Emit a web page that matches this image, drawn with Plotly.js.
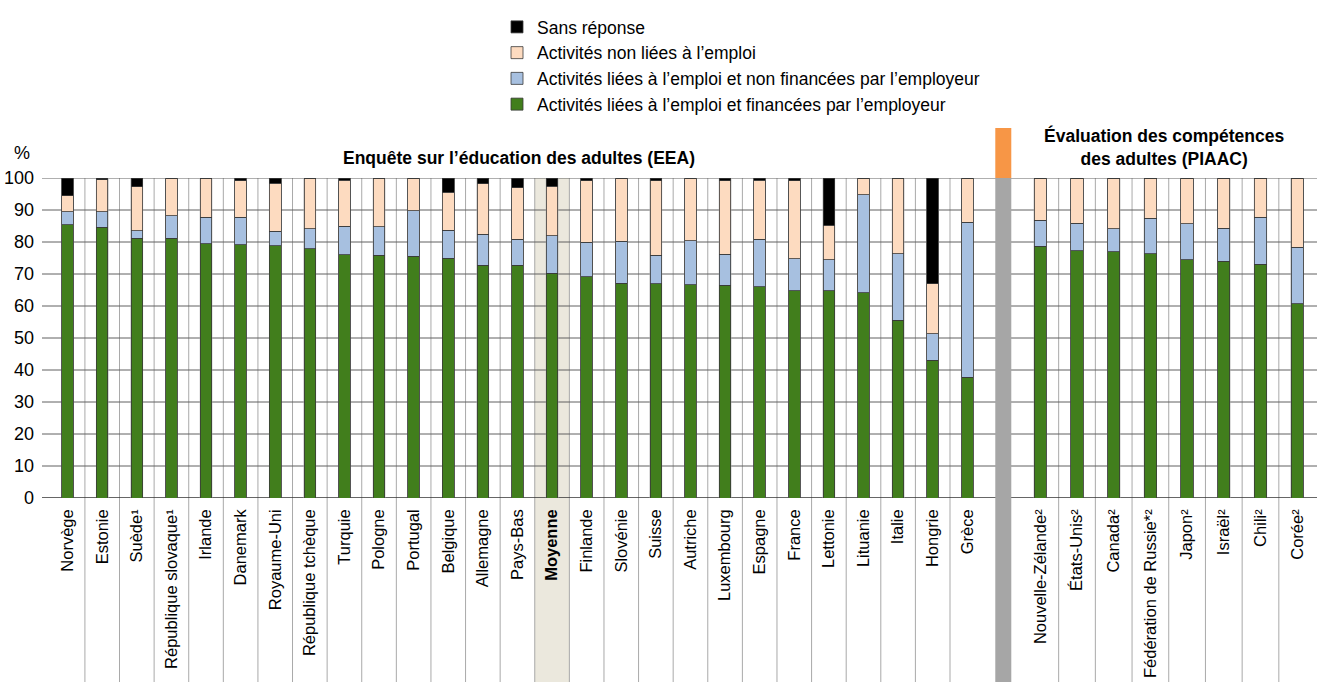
<!DOCTYPE html>
<html>
<head>
<meta charset="utf-8">
<script src="https://cdn.plot.ly/plotly-3.0.1.min.js"></script>
<style>html,body{margin:0;padding:0;background:#fff;}#chart{width:1317px;height:682px;}</style>
</head>
<body>
<div id="chart"></div>
<script>
// ---------- DATA ----------
const eeaCountries = ["Norvège","Estonie","Suède¹","République slovaque¹","Irlande","Danemark","Royaume-Uni","République tchèque","Turquie","Pologne","Portugal","Belgique","Allemagne","Pays-Bas","Moyenne","Finlande","Slovénie","Suisse","Autriche","Luxembourg","Espagne","France","Lettonie","Lituanie","Italie","Hongrie","Grèce"];
const eeaFunded   = [85.4,84.6,81.2,81.1,79.5,79.1,78.8,77.9,76.0,75.9,75.5,75.0,72.7,72.7,70.3,69.2,67.1,66.9,66.7,66.5,66.0,64.8,64.7,64.2,55.6,43.1,37.7];
const eeaUnfunded = [4.0,4.8,2.3,7.1,8.3,8.6,4.6,6.2,9.0,8.9,14.3,8.6,9.7,8.1,11.7,10.7,13.1,8.9,13.7,9.7,14.9,9.9,9.8,30.6,20.8,8.3,48.4];
const eeaNonJob   = [5.1,10.1,13.7,11.8,12.2,11.5,14.9,15.9,14.3,15.2,10.2,12.0,15.8,16.1,15.4,19.3,19.8,23.4,19.6,23.0,18.4,24.5,10.7,5.2,23.6,15.6,13.9];
const eeaNoAnswer = [5.5,0.5,2.8,0,0,0.8,1.7,0,0.7,0,0,4.4,1.8,3.1,2.6,0.8,0,0.8,0,0.8,0.7,0.8,14.8,0,0,33.0,0];

const piaacCountries = ["Nouvelle-Zélande²","États-Unis²","Canada²","Fédération de Russie*²","Japon²","Israël²","Chili²","Corée²"];
const piaacFunded   = [78.6,77.3,76.9,76.4,74.5,74.0,73.1,60.7];
const piaacUnfunded = [8.2,8.6,7.3,11.1,11.2,10.3,14.6,17.7];
const piaacNonJob   = [13.2,14.1,15.8,12.5,14.3,15.7,12.3,21.6];
const piaacNoAnswer = [0,0,0,0,0,0,0,0];

const seriesNames = ["Activités liées à l’emploi et financées par l’employeur","Activités liées à l’emploi et non financées par l’employeur","Activités non liées à l’emploi","Sans réponse"];
const seriesColors = ["#417e1c","#a7c0e0","#fddbc0","#000000"];
const yTicks = [0,10,20,30,40,50,60,70,80,90,100];
const averageLabel = "Moyenne";
const titleEEA = "Enquête sur l’éducation des adultes (EEA)";
const titlePIAAC = "Évaluation des compétences<br>des adultes (PIAAC)";

// ---------- STYLE ----------
const NARROW = "Liberation Sans Narrow, Arial Narrow, Liberation Sans, Arial, sans-serif";
const REG = "Liberation Sans, Arial, sans-serif";
const W = 1317, H = 682, ML = 42, MR = 0, MT = 178, MB = 184;
const plotW = W - ML - MR, plotH = H - MT - MB;
const barW = 1/3;
const dom1 = [0, 0.7393], dom2 = [0.7686, 1];
const bottomPaper = -MB / plotH;
const py = px => (H - MB - px) / plotH;   // pixel row -> paper y

const eeaLabels = eeaCountries.map(c => c === averageLabel ? "<b>" + c + "</b>" : c);

function mk(xs, ys, k, xa, showleg) {
  return {
    type: "bar", x: xs, y: ys, xaxis: xa, yaxis: "y",
    name: seriesNames[k], legendgroup: "g" + k, legendrank: 10 - k, showlegend: showleg,
    width: barW,
    marker: {color: seriesColors[k], line: {color: "#3a3a3a", width: 0.8}},
    hoverinfo: "x+y+name"
  };
}
const eeaSeries = [eeaFunded, eeaUnfunded, eeaNonJob, eeaNoAnswer];
const piaacSeries = [piaacFunded, piaacUnfunded, piaacNonJob, piaacNoAnswer];
const data = [];
eeaSeries.forEach((s, k) => data.push(mk(eeaLabels, s, k, "x", true)));
piaacSeries.forEach((s, k) => data.push(mk(piaacCountries, s, k, "x2", false)));

// ---------- SHAPES ----------
const shapes = [];
const avgIdx = eeaCountries.indexOf(averageLabel);
shapes.push({type: "rect", xref: "x", yref: "paper", x0: avgIdx - 0.5, x1: avgIdx + 0.5, y0: bottomPaper, y1: 1,
  fillcolor: "#ebe8dd", line: {width: 0}, layer: "below"});
function vlines(n, xref) {
  for (let i = 0; i < n; i++) {
    [i - barW/2, i + barW/2].forEach(x => shapes.push({type: "line", xref: xref, yref: "y", x0: x, x1: x, y0: 0, y1: 100,
      line: {color: "#a9a9a9", width: 1}, layer: "below"}));
    if (i < n - 1) shapes.push({type: "line", xref: xref, yref: "paper", x0: i + 0.5, x1: i + 0.5, y0: bottomPaper, y1: 1,
      line: {color: "#a9a9a9", width: 1}, layer: "below"});
  }
}
vlines(eeaCountries.length, "x");
vlines(piaacCountries.length, "x2");
yTicks.forEach(v => shapes.push({type: "line", xref: "paper", yref: "y", x0: 0, x1: 1, y0: v, y1: v,
  line: {color: v === 0 ? "#333333" : "#606060", width: v === 0 ? 1.5 : 1}, layer: "below"}));
const sepC = (dom1[1] + dom2[0]) / 2, sepHalf = 8 / plotW;
shapes.push({type: "rect", xref: "paper", yref: "paper", x0: sepC - sepHalf, x1: sepC + sepHalf, y0: bottomPaper, y1: 1,
  fillcolor: "#a6a6a6", line: {width: 0}, layer: "above"});
shapes.push({type: "rect", xref: "paper", yref: "paper", x0: sepC - sepHalf, x1: sepC + sepHalf, y0: 1, y1: py(128),
  fillcolor: "#f79646", line: {width: 0}, layer: "above"});

// ---------- LAYOUT ----------
const xCommon = {
  type: "category", showgrid: false, zeroline: false, showline: false, ticks: "", automargin: false,
  tickangle: -90, tickfont: {family: REG, size: 16.5, color: "#000"}, ticklabelstandoff: 7, fixedrange: true
};
const layout = {
  width: W, height: H,
  margin: {l: ML, r: MR, t: MT, b: MB, pad: 0, autoexpand: false},
  paper_bgcolor: "#ffffff", plot_bgcolor: "rgba(0,0,0,0)",
  barmode: "stack",
  xaxis: Object.assign({}, xCommon, {domain: dom1, anchor: "y", range: [-0.74, eeaCountries.length - 0.5]}),
  xaxis2: Object.assign({}, xCommon, {domain: dom2, anchor: "y", range: [-0.5, piaacCountries.length - 0.46]}),
  yaxis: {range: [0, 100], tickvals: yTicks, showgrid: false, zeroline: false, showline: false, ticks: "", automargin: false,
    ticklabelstandoff: 7, tickfont: {family: NARROW, size: 18, color: "#000"}, fixedrange: true},
  legend: {x: (497 - ML) / plotW, xanchor: "left", y: py(9), yanchor: "top",
    orientation: "v", traceorder: "normal",
    font: {family: NARROW, size: 17.5, color: "#000"}, bgcolor: "rgba(0,0,0,0)", itemclick: false},
  shapes: shapes,
  annotations: [
    {text: "%", xref: "paper", yref: "paper", x: -20 / plotW, y: py(153), showarrow: false,
      xanchor: "center", yanchor: "middle", font: {family: NARROW, size: 18, color: "#000"}},
    {text: "<b>" + titleEEA + "</b>", xref: "x", yref: "paper", x: 13.05, y: py(158), showarrow: false,
      xanchor: "center", yanchor: "middle", font: {family: NARROW, size: 17.5, color: "#000"}},
    {text: "<b>" + titlePIAAC + "</b>", xref: "x2", yref: "paper", x: 3.38, y: py(147), showarrow: false,
      xanchor: "center", yanchor: "middle", font: {family: NARROW, size: 17.5, color: "#000"}}
  ],
  hovermode: "closest"
};
Plotly.newPlot("chart", data, layout, {displayModeBar: false});
</script>
</body>
</html>
